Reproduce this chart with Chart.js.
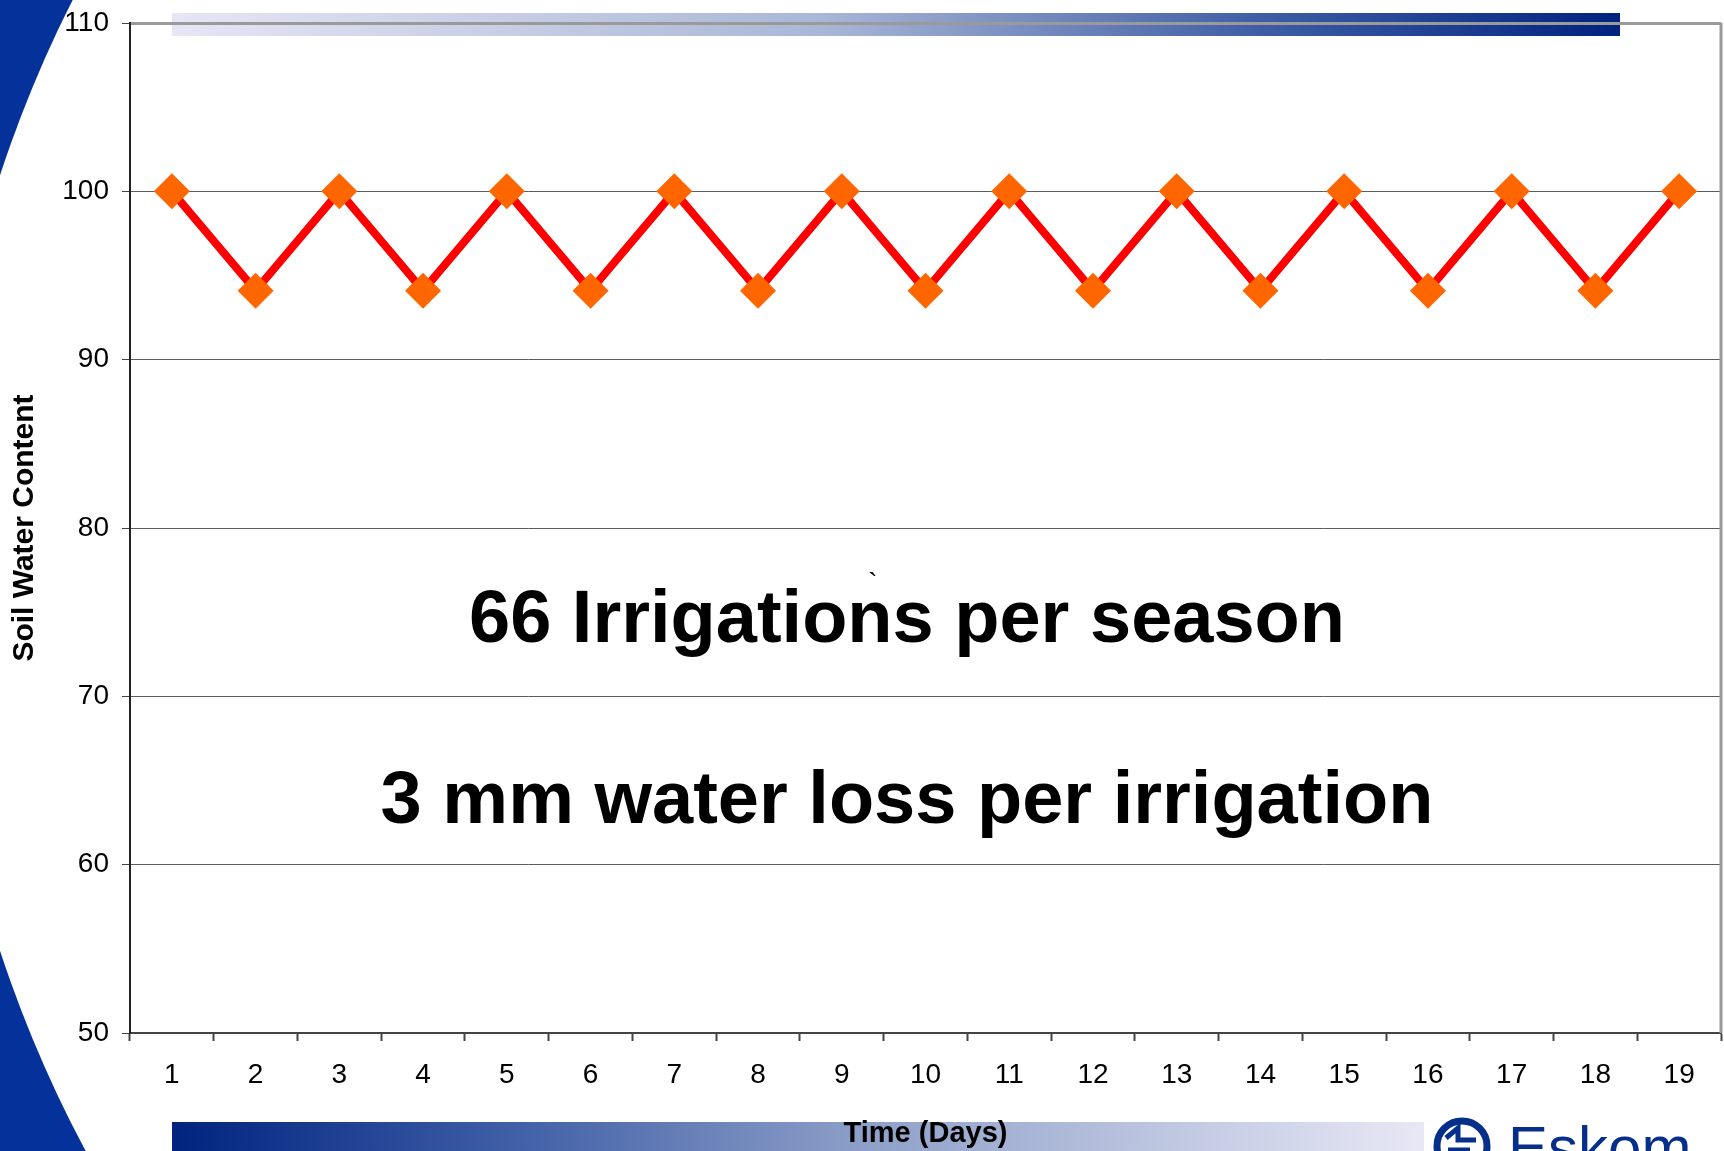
<!DOCTYPE html>
<html>
<head>
<meta charset="utf-8">
<script src="https://cdn.jsdelivr.net/npm/chart.js@4/dist/chart.umd.min.js"></script>
<style>
  html, body { margin: 0; padding: 0; background: #ffffff; }
  #swcChart { display: block; }
</style>
</head>
<body>
<canvas id="swcChart" width="1724" height="1151"></canvas>
<script>
// Days and soil water content (irrigated every second day)
const days = ['1','2','3','4','5','6','7','8','9','10','11','12','13','14','15','16','17','18','19'];
const soilWater = [100, 94.1, 100, 94.1, 100, 94.1, 100, 94.1, 100, 94.1, 100, 94.1, 100, 94.1, 100, 94.1, 100, 94.1, 100];
const yTicks = [50, 60, 70, 80, 90, 100, 110];
const notes = ['66 Irrigations per season', '3 mm water loss per irrigation'];

const FONT = '"Liberation Sans", Arial, Helvetica, sans-serif';
const NAVY = '#062f8c';

(function(){
  // MARK: fondo de la diapositiva: curva azul, barras degradadas y logo
  const slideBackground = {
    id: 'slideBackground',
    beforeDraw(chart) {
      const ctx = chart.ctx;
      const W = chart.width, H = chart.height;
      ctx.save();
      ctx.fillStyle = '#05329a';
      ctx.fillRect(0, 0, W, H);
      ctx.fillStyle = '#ffffff';
      ctx.beginPath();
      ctx.arc(1182, 563, 1244, 0, Math.PI * 2);
      ctx.fill();

      // barra superior: claro -> azul
      let g = ctx.createLinearGradient(172, 0, 1620, 0);
      g.addColorStop(0, '#e6e6f4');
      g.addColorStop(0.45, '#a9b6d6');
      g.addColorStop(0.75, '#3f5ea6');
      g.addColorStop(1, '#00237f');
      ctx.fillStyle = g;
      ctx.fillRect(172, 13, 1448, 23);

      // barra inferior: azul -> claro
      g = ctx.createLinearGradient(172, 0, 1424, 0);
      g.addColorStop(0, '#00237f');
      g.addColorStop(0.25, '#3a5aa4');
      g.addColorStop(0.55, '#8d9fc8');
      g.addColorStop(1, '#e8e8f5');
      ctx.fillStyle = g;
      ctx.fillRect(172, 1122, 1252, 29);

      // logo
      ctx.fillStyle = '#ffffff';
      ctx.fillRect(1425, 1107, 272, 44);
      ctx.strokeStyle = NAVY;
      ctx.lineWidth = 7;
      ctx.beginPath();
      ctx.arc(1462, 1146, 25, 0, Math.PI * 2);
      ctx.stroke();
      ctx.lineWidth = 5;
      ctx.beginPath();
      ctx.moveTo(1446, 1138);
      ctx.lineTo(1458, 1128);
      ctx.lineTo(1458, 1140);
      ctx.lineTo(1476, 1140);
      ctx.moveTo(1448, 1150);
      ctx.lineTo(1470, 1150);
      ctx.stroke();
      ctx.fillStyle = NAVY;
      ctx.font = '60px ' + FONT;
      ctx.textAlign = 'left';
      ctx.textBaseline = 'alphabetic';
      ctx.fillText('Eskom', 1508, 1168);
      ctx.restore();
    }
  };

  // MARK: borde derecho y textos sobre el área del gráfico
  const overlayText = {
    id: 'overlayText',
    afterDraw(chart) {
      const ctx = chart.ctx;
      const a = chart.chartArea;
      ctx.save();
      ctx.strokeStyle = '#9a9a9a';
      ctx.lineWidth = 3;
      ctx.beginPath();
      ctx.moveTo(a.right, a.top);
      ctx.lineTo(a.right, a.bottom);
      ctx.stroke();

      ctx.fillStyle = '#000000';
      ctx.textAlign = 'center';
      ctx.textBaseline = 'alphabetic';
      ctx.font = 'bold 74px ' + FONT;
      ctx.fillText(notes[0], 907, 642);
      ctx.fillText(notes[1], 907, 823);
      ctx.font = '28px ' + FONT;
      ctx.fillText('`', 873, 592);
      ctx.restore();
    }
  };

  const ctx = document.getElementById('swcChart').getContext('2d');

  window.swcChart = new Chart(ctx, {
    type: 'line',
    data: {
      labels: days,
      datasets: [{
        data: soilWater,
        borderColor: '#ff0000',
        borderWidth: 8,
        tension: 0,
        pointStyle: 'rectRot',
        pointRadius: 18,
        pointBorderWidth: 0,
        pointBackgroundColor: '#ff6600',
        pointBorderColor: '#ff6600',
        clip: false
      }]
    },
    options: {
      responsive: false,
      animation: false,
      devicePixelRatio: 1,
      layout: { autoPadding: false, padding: { left: 0, top: 23, right: 3, bottom: 0 } },
      plugins: {
        legend: { display: false },
        tooltip: { enabled: false }
      },
      scales: {
        x: {
          type: 'category',
          offset: true,
          afterFit(scale) {
            scale.height = 118;
            scale.paddingLeft = 0;
            scale.paddingRight = 0;
          },
          grid: {
            offset: true,
            drawOnChartArea: false,
            drawTicks: true,
            tickLength: 8,
            tickWidth: 2,
            tickColor: '#444444'
          },
          border: { color: '#444444', width: 2 },
          ticks: {
            color: '#000000',
            font: { family: FONT, size: 28 },
            padding: 17,
            maxRotation: 0,
            autoSkip: false
          },
          title: {
            display: true,
            text: 'Time (Days)',
            color: '#000000',
            font: { family: FONT, size: 29, weight: 'bold' },
            padding: { top: 0, bottom: 0 }
          }
        },
        y: {
          min: 50,
          max: 110,
          afterFit(scale) {
            scale.width = 130;
            scale.paddingTop = 0;
            scale.paddingBottom = 0;
          },
          afterBuildTicks(scale) { scale.ticks = yTicks.map(v => ({ value: v })); },
          grid: {
            color: ctx => ctx.tick && ctx.tick.value === 110 ? '#9a9a9a' : '#5c5c5c',
            lineWidth: ctx => ctx.tick && ctx.tick.value === 110 ? 3 : 1,
            tickLength: 8,
            tickColor: '#444444',
            tickWidth: 1
          },
          border: { color: '#222222', width: 2 },
          ticks: {
            color: '#000000',
            font: { family: FONT, size: 28 },
            padding: 13
          },
          title: {
            display: true,
            text: 'Soil Water Content',
            color: '#000000',
            font: { family: FONT, size: 30, weight: 'bold' },
            padding: { top: 7, bottom: 0 }
          }
        }
      }
    },
    plugins: [slideBackground, overlayText]
  });
})();
</script>
</body>
</html>
